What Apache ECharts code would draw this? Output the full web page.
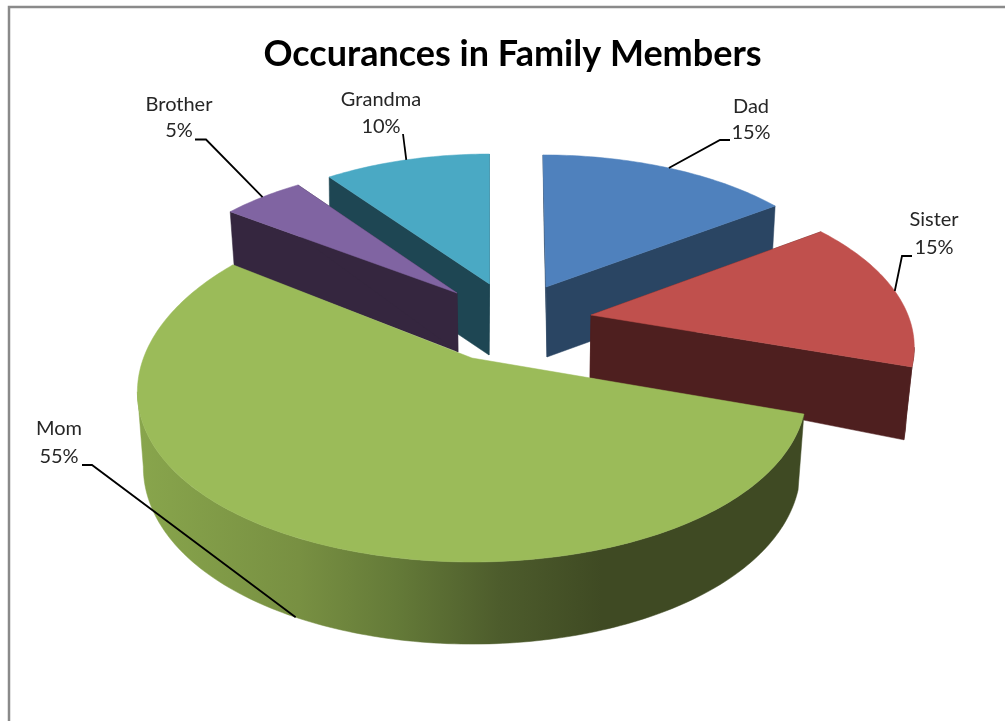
<!DOCTYPE html>
<html>
<head>
<meta charset="utf-8">
<style>html,body{margin:0;padding:0;background:#fff}#chart{width:1005px;height:721px}</style>
<script src="https://cdn.jsdelivr.net/npm/echarts@6/dist/echarts.min.js"></script>
</head>
<body>
<div id="chart"></div>
<script>
// Share of occurrences per family member, clockwise from twelve o'clock.
const members = ['Dad', 'Sister', 'Mom', 'Brother', 'Grandma'];
const percents = [15, 15, 55, 5, 10];

const topColors = ['#4F81BD', '#C0504D', '#9BBB59', '#8064A2', '#4AA9C4'];
const sideColors = ['#2A4563', '#4E1F1F', '#3F4A23', '#35263F', '#1E4653'];
// Painting order, rear wedges first.
const paintRank = [0, 3, 4, 2, 1];

// Each exploded wedge has its own perspective: apex position, radii and foreshortening,
// for the upper face and the lower face.
const wedgeViews = [
  { k: .113, skew: .023, top: { x: 546, y: 287, a: 304.5, b: 147 }, low: { x: 547, y: 357, a: 298, b: 147 } },
  { k: .196, skew: 0, top: { x: 591, y: 315, a: 317, b: 158 }, low: { x: 590, y: 378, a: 310, b: 188 } },
  { k: .19, ky: .153, skew: 0, top: { x: 472, y: 358, a: 328.5, b: 172.8 }, low: { x: 472, y: 431.6, a: 322.7, b: 180 } },
  { k: .18, skew: 0, top: { x: 457, y: 293, a: 310, b: 153 }, low: { x: 458, y: 352, a: 306, b: 162 } },
  { k: .098, skew: 0, top: { x: 489.5, y: 284, a: 294.5, b: 142.7 }, low: { x: 489, y: 355, a: 292, b: 142.7 } }
];

// Label centre and the elbow of its leader line; the far end of the leader is found on the rim.
const labelSpots = [
  { x: 751, y1: 107, y2: 133, from: [730, 140], elbow: [720, 140], rim: 'top' },
  { x: 934, y1: 220, y2: 248, from: [912, 256], elbow: [902, 256], rim: 'top' },
  { x: 59, y1: 429, y2: 457, from: [82, 465], elbow: [92, 465], rim: 'low' },
  { x: 179, y1: 105, y2: 131, from: [195, 139.5], elbow: [206, 139.5], rim: 'top' },
  { x: 381, y1: 100, y2: 127, from: [403, 134], elbow: null, rim: 'top' }
];

const total = percents.reduce((s, v) => s + v, 0);

function project(view, face, deg, radius) {
  const t = deg * Math.PI / 180;
  const u = Math.sin(t) * radius, v = Math.cos(t) * radius;
  const ky = view.ky === undefined ? view.k : view.ky;
  const dx = face.a * u / (1 + view.k * v), dy = -face.b * v / (1 + ky * v);
  return [face.x + dx + view.skew * dy, face.y + dy];
}

function rimPoints(view, face, from, to) {
  const pts = [];
  const steps = Math.max(2, Math.ceil(Math.abs(to - from)));
  for (let i = 0; i <= steps; i++) {
    pts.push(project(view, face, from + (to - from) * i / steps, 1));
  }
  return pts;
}

const momSideFill = new echarts.graphic.LinearGradient(140, 0, 800, 0, [
  { offset: 0, color: '#88A54C' },
  { offset: .24, color: '#789042' },
  { offset: .39, color: '#647A38' },
  { offset: .545, color: '#4D5C2C' },
  { offset: .70, color: '#3F4A23' },
  { offset: 1, color: '#3F4A23' }
], true);

function renderWedge(params, api) {
  const i = params.dataIndex;
  const value = api.value(0);
  const before = percents.slice(0, i).reduce((s, v) => s + v, 0);
  const start = before / total * 360, end = (before + value) / total * 360;
  const mid = (start + end) / 2;
  const view = wedgeViews[i], top = view.top, low = view.low;
  const isMom = members[i] === 'Mom';
  const z = paintRank[i] * 10;
  const children = [];

  const wall = (points, fill, zz) => children.push({
    type: 'polygon', shape: { points }, z2: zz,
    style: { fill, stroke: fill, lineWidth: .5 }
  });

  // Radial walls lie inside the silhouette, so the upper face covers the hidden ones.
  if (!isMom) {
    [start, end].forEach(a => wall([
      [top.x, top.y], project(view, top, a, 1), project(view, low, a, 1), [low.x, low.y]
    ], sideColors[i], z));
  }

  // Outer wall: the part of the rim between the two silhouette tangents.
  const tangent = Math.asin(view.k) * 180 / Math.PI;
  const a0 = Math.max(start, 90 + tangent), a1 = Math.min(end, 270 - tangent);
  if (a1 > a0) {
    wall(rimPoints(view, top, a0, a1).concat(rimPoints(view, low, a1, a0)),
      isMom ? momSideFill : sideColors[i], z + 1);
  }

  children.push({
    type: 'polygon', z2: z + 2,
    shape: { points: [[top.x, top.y]].concat(rimPoints(view, top, start, end)) },
    style: { fill: topColors[i], stroke: topColors[i], lineWidth: .5 }
  });

  const spot = labelSpots[i];
  const anchor = project(view, view[spot.rim], mid, 1);
  const leader = spot.elbow ? [spot.from, spot.elbow, anchor] : [spot.from, anchor];
  children.push({
    type: 'polyline', z2: 100, shape: { points: leader },
    style: { fill: null, stroke: '#000', lineWidth: 1.8 }
  });
  const label = (text, y) => children.push({
    type: 'text', z2: 101,
    style: {
      text, x: spot.x, y, fill: '#262626',
      font: '20px Lato', align: 'center', verticalAlign: 'middle'
    }
  });
  label(members[i], spot.y1);
  label(value + '%', spot.y2);

  return { type: 'group', children };
}

const chart = echarts.init(document.getElementById('chart'), null, { renderer: 'canvas' });
chart.setOption({
  animation: false,
  backgroundColor: '#fff',
  title: {
    text: 'Occurances in Family Members',
    left: 507.5, top: 31, textAlign: 'center',
    textStyle: { fontFamily: 'Lato', fontWeight: 'bold', fontSize: 36, color: '#000' }
  },
  graphic: [{
    type: 'polyline', silent: true,
    shape: { points: [[1005, 7], [9, 7], [9, 721]] },
    style: { fill: null, stroke: '#8A8A8A', lineWidth: 2.5 }
  }],
  series: [{
    type: 'custom',
    coordinateSystem: 'none',
    renderItem: renderWedge,
    data: percents.map((v, i) => ({ name: members[i], value: [v] }))
  }]
});
</script>
</body>
</html>
